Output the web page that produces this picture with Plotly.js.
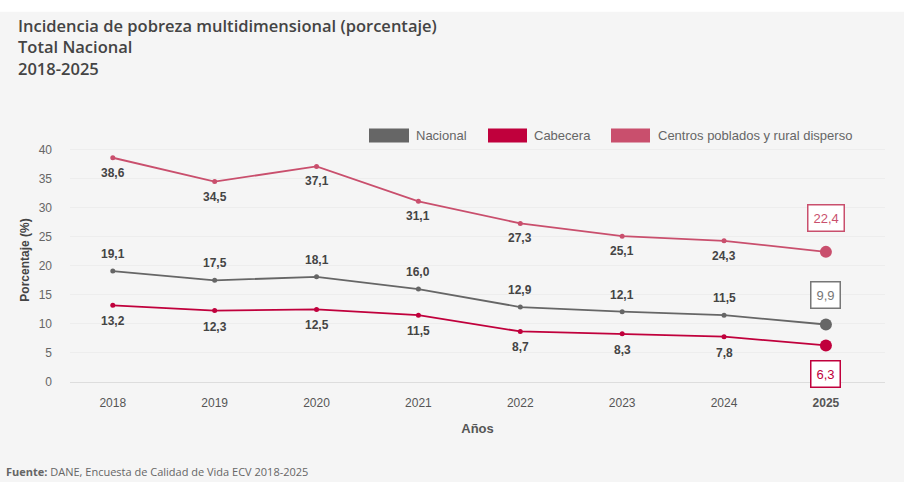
<!DOCTYPE html>
<html><head><meta charset="utf-8">
<script src="https://cdn.plot.ly/plotly-3.0.1.min.js"></script>
<style>html,body{margin:0;padding:0;background:#f5f5f5;}#chart{width:904px;height:482px;}</style>
</head><body><div id="chart"></div>
<script>
const years = [2018, 2019, 2020, 2021, 2022, 2023, 2024, 2025];
const nacional = [19.1, 17.5, 18.1, 16.0, 12.9, 12.1, 11.5, 9.9];
const cabecera = [13.2, 12.3, 12.5, 11.5, 8.7, 8.3, 7.8, 6.3];
const centros = [38.6, 34.5, 37.1, 31.1, 27.3, 25.1, 24.3, 22.4];
const seriesNames = ['Nacional', 'Cabecera', 'Centros poblados y rural disperso'];
const tickLabels = ['2018','2019','2020','2021','2022','2023','2024','<b>2025</b>'];

const colNac = '#666666', colCab = '#c0003c', colCen = '#c94f6d';
const W = 904, H = 482, L = 70, R = 19, T = 137.5, B = 100;
const pw = W - L - R, ph = H - T - B;
const px = x => (x - L) / pw;
const py = y => (H - B - y) / ph;
const fmt = v => v.toFixed(1).replace('.', ',');
const FONT = 'Liberation Sans, Arial, sans-serif';

function trace(vals, name, color) {
  const n = vals.length;
  return {
    x: years, y: vals, name: name, type: 'scatter', mode: 'lines+markers',
    line: {color: color, width: 1.8},
    marker: {color: color, opacity: 1, size: vals.map((v, i) => i === n - 1 ? 12 : 5),
      line: {color: color, width: 0}},
    showlegend: false, hoverinfo: 'skip', cliponaxis: false
  };
}
const data = [
  trace(centros, seriesNames[2], colCen),
  trace(nacional, seriesNames[0], colNac),
  trace(cabecera, seriesNames[1], colCab)
];

const last = years.length - 1;
const annotations = [];
// point labels
[[centros, -15], [nacional, 17], [cabecera, -16]].forEach(([vals, shift]) => {
  vals.forEach((v, i) => {
    if (i === last) return;
    annotations.push({x: years[i], y: v, xref: 'x', yref: 'y', yshift: shift, text: fmt(v),
      showarrow: false, font: {family: FONT, size: 12, color: '#444', weight: 600}});
  });
});
[
  {y: centros[last], yshift: 34, text: fmt(centros[last]), color: colCen},
  {y: nacional[last], yshift: 29, text: fmt(nacional[last]), color: '#777'},
  {y: cabecera[last], yshift: -29, text: fmt(cabecera[last]), color: colCab}
].forEach(a => annotations.push({
  x: years[last], y: a.y, xref: 'x', yref: 'y', yshift: a.yshift, text: a.text, showarrow: false,
  font: {family: FONT, size: 13, color: a.color},
  bgcolor: '#ffffff', bordercolor: a.color, borderwidth: 1.5, borderpad: 5
}));

// legend
const legendItems = [
  {x0: 369, x1: 409, tx: 414, name: seriesNames[0], color: colNac},
  {x0: 488, x1: 527, tx: 532, name: seriesNames[1], color: colCab},
  {x0: 611, x1: 650, tx: 656, name: seriesNames[2], color: colCen}
];
const shapes = [
  {type: 'rect', xref: 'paper', yref: 'paper', x0: px(0), x1: px(W), y0: py(11), y1: py(-5),
   fillcolor: '#ffffff', line: {width: 0}, layer: 'below'}
];
legendItems.forEach(it => {
  shapes.push({type: 'rect', xref: 'paper', yref: 'paper', x0: px(it.x0), x1: px(it.x1),
    y0: py(142), y1: py(128), fillcolor: it.color, line: {width: 0}});
  annotations.push({xref: 'paper', yref: 'paper', x: px(it.tx), y: py(135), xanchor: 'left', yanchor: 'middle',
    text: it.name, showarrow: false, font: {family: FONT, size: 13, color: '#666'}});
});
// titles
annotations.push({xref: 'paper', yref: 'paper', x: px(16), y: py(11), xanchor: 'left', yanchor: 'top', align: 'left',
  text: 'Incidencia de pobreza multidimensional (porcentaje)<br>Total Nacional<br>2018-2025', showarrow: false,
  font: {family: 'Open Sans, sans-serif', size: 16.5, color: '#444', weight: 600}});
annotations.push({xref: 'paper', yref: 'paper', x: px(4), y: py(481), xanchor: 'left', yanchor: 'bottom', align: 'left',
  text: '<b>Fuente:</b> DANE, Encuesta de Calidad de Vida ECV 2018-2025', showarrow: false,
  font: {family: 'Open Sans, sans-serif', size: 11, color: '#666'}});

const layout = {
  width: W, height: H, margin: {l: L, r: R, t: T, b: B},
  paper_bgcolor: '#f5f5f5', plot_bgcolor: '#f5f5f5',
  xaxis: {range: [2017.58, 2025.58], tickvals: years, ticktext: tickLabels, showgrid: false,
    zeroline: false, showline: true, linecolor: '#dddddd', linewidth: 1, ticks: '', ticklen: 0,
    ticklabelstandoff: 10,
    tickfont: {family: FONT, size: 12, color: '#555'},
    title: {text: '<b>Años</b>', font: {family: FONT, size: 13, color: '#555'}, standoff: 14}},
  yaxis: {range: [0, 42], tickvals: [0,5,10,15,20,25,30,35,40], showgrid: true, gridcolor: '#ededed',
    zeroline: false, showline: false, ticks: '', ticklabelstandoff: 17,
    tickfont: {family: FONT, size: 12, color: '#666'},
    title: {text: '<b>Porcentaje (%)</b>', font: {family: FONT, size: 12, color: '#444'}, standoff: 6}},
  shapes: shapes, annotations: annotations, showlegend: false
};
Plotly.newPlot('chart', data, layout, {displayModeBar: false, staticPlot: true});
</script></body></html>
